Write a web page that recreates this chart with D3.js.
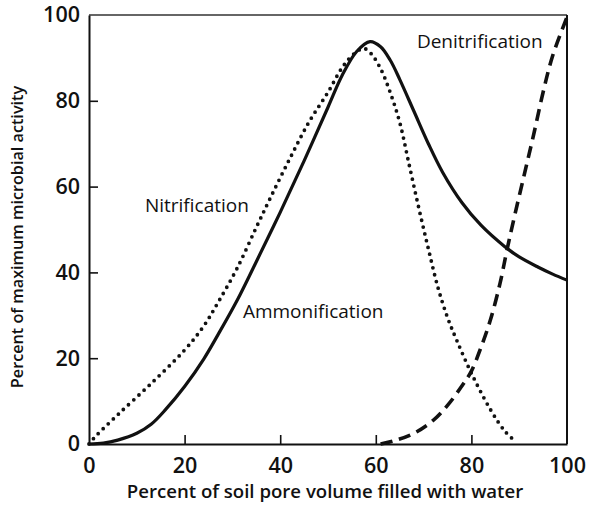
<!DOCTYPE html>
<html>
<head>
<meta charset="utf-8">
<script src="https://cdn.jsdelivr.net/npm/d3@7"></script>
<style>
  html, body { margin: 0; padding: 0; background: #fff; }
  svg { display: block; }
  text { font-family: "Open Sans", Lato, sans-serif; fill: #111; }
</style>
</head>
<body>
<svg id="chart" width="590" height="505"></svg>
<script>
// ---- data ----
const ammonX = [0, 3, 6, 10, 13, 16, 20, 24, 27, 31, 35, 40, 45, 50, 53, 56, 58.8, 61, 63, 65, 68, 71, 74, 78, 82, 87, 90, 94, 97, 100];
const ammonY = [0, 0.2, 0.9, 2.5, 4.6, 8, 13.4, 19.8, 25.5, 33.5, 42.5, 54, 66, 78.5, 86, 91.5, 93.8, 92.6, 89.5, 85, 77.5, 70, 63.3, 56.3, 51, 46, 43.6, 41.2, 39.6, 38.2];

const nitriX = [0, 1.3, 6, 13, 20, 24, 27, 31, 35, 38, 42, 46, 50, 53, 55.5, 57.5, 59, 61, 63, 65, 67, 69, 71, 73, 75, 77, 80, 84, 87, 89.3];
const nitriY = [0, 1.7, 6.8, 14.1, 21.9, 27.5, 33, 41, 50.5, 57.5, 66.5, 75, 82, 87.8, 91, 92.2, 91, 87.5, 82, 75, 65, 55, 45.5, 36.5, 29.5, 24, 16.5, 8, 3, 0.5];

const denitX = [61, 64, 68, 72, 75, 78, 80, 82, 84, 86, 87.4, 89, 91, 93, 95, 97, 100];
const denitY = [0, 0.8, 2.5, 5.5, 9, 13.5, 17, 22.5, 29, 37.5, 45, 53, 62.5, 72, 82, 90.5, 99.5];

const xTicks = [0, 20, 40, 60, 80, 100];
const yTicks = [0, 20, 40, 60, 80, 100];

const labels = [
  { text: "Nitrification", x: 11.7, y: 55.5 },
  { text: "Ammonification", x: 32.2, y: 30.8 },
  { text: "Denitrification", x: 68.6, y: 93.6 }
];

// ---- layout ----
const svg = d3.select("#chart");
const x = d3.scaleLinear().domain([0, 100]).range([89, 567]);
const y = d3.scaleLinear().domain([0, 100]).range([444, 15]);

// frame (top & right)
svg.append("line").attr("x1", x(0)).attr("x2", x(100)).attr("y1", y(100)).attr("y2", y(100))
  .attr("stroke", "#333").attr("stroke-width", 1.6);
svg.append("line").attr("x1", x(100)).attr("x2", x(100)).attr("y1", y(100)).attr("y2", y(0))
  .attr("stroke", "#111").attr("stroke-width", 2);

// axes
const xAxis = d3.axisBottom(x).tickValues(xTicks).tickSize(0).tickPadding(14);
const gx = svg.append("g").attr("transform", `translate(0,${y(0)})`).call(xAxis);
gx.select(".domain").attr("stroke", "#111").attr("stroke-width", 2);
gx.selectAll(".tick text").attr("font-size", 21.5).attr("font-weight", 600).attr("fill", "#111")
  .attr("font-family", "Lato, sans-serif");
gx.selectAll(".tick").filter(d => d > 0 && d < 100).append("line")
  .attr("y1", 0).attr("y2", -9).attr("stroke", "#111").attr("stroke-width", 1.6);

const yAxis = d3.axisLeft(y).tickValues(yTicks).tickSize(0).tickPadding(9);
const gy = svg.append("g").attr("transform", `translate(${x(0)},0)`).call(yAxis);
gy.select(".domain").attr("stroke", "#111").attr("stroke-width", 2);
gy.selectAll(".tick text").attr("font-size", 21.5).attr("font-weight", 600).attr("fill", "#111")
  .attr("font-family", "Lato, sans-serif");
gy.selectAll(".tick").filter(d => d > 0 && d < 100).append("line")
  .attr("x1", 0).attr("x2", 9).attr("stroke", "#111").attr("stroke-width", 1.6);

// axis titles
svg.append("text").attr("x", 325).attr("y", 498).attr("text-anchor", "middle")
  .attr("font-size", 18.6).attr("font-weight", 600).text("Percent of soil pore volume filled with water");
svg.append("text").attr("transform", "translate(23,237) rotate(-90)").attr("text-anchor", "middle")
  .attr("font-size", 16.2).attr("font-weight", 600).text("Percent of maximum microbial activity");

// curves
const line = d3.line().x(d => x(d[0])).y(d => y(d[1])).curve(d3.curveCatmullRom.alpha(0.5));
const zip = (a, b) => a.map((v, i) => [v, b[i]]);

svg.append("path").datum(zip(nitriX, nitriY)).attr("d", line)
  .attr("fill", "none").attr("stroke", "#111").attr("stroke-width", 3.8)
  .attr("stroke-linecap", "round").attr("stroke-dasharray", "0 7");

svg.append("path").datum(zip(ammonX, ammonY)).attr("d", line)
  .attr("fill", "none").attr("stroke", "#111").attr("stroke-width", 3.2);

svg.append("path").datum(zip(denitX, denitY)).attr("d", line)
  .attr("fill", "none").attr("stroke", "#111").attr("stroke-width", 3.6)
  .attr("stroke-dasharray", "12 7");

// curve labels
svg.selectAll("text.lbl").data(labels).enter().append("text").attr("class", "lbl")
  .attr("x", d => x(d.x)).attr("y", d => y(d.y) + 6)
  .attr("font-size", 19).attr("font-weight", 400).text(d => d.text);
</script>
</body>
</html>
